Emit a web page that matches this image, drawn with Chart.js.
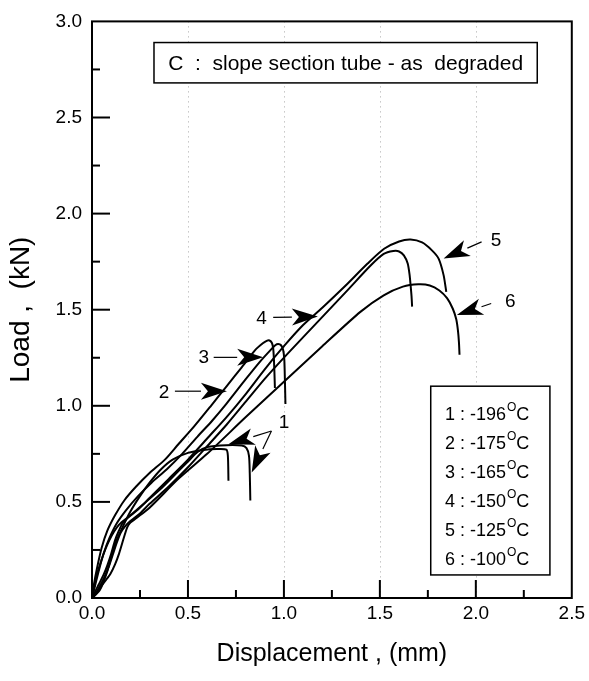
<!DOCTYPE html>
<html><head><meta charset="utf-8">
<script src="https://cdn.jsdelivr.net/npm/chart.js@4/dist/chart.umd.min.js"></script>
<style>html,body{margin:0;padding:0;background:#fff}#wrap{width:589px;height:681px}</style>
</head><body><div id="wrap"><canvas id="c" width="589" height="681"></canvas></div>
<script>
// ---- data ----
const seriesNames = ['1 : -196', '2 : -175', '3 : -165', '4 : -150', '5 : -125', '6 : -100'];
const xTickLabels = ['0.0', '0.5', '1.0', '1.5', '2.0', '2.5'];
const yTickLabels = ['0.0', '0.5', '1.0', '1.5', '2.0', '2.5', '3.0'];

const c1aX = [0, 0.04, 0.08, 0.12, 0.16, 0.2, 0.25, 0.3, 0.36, 0.42, 0.5, 0.58, 0.65, 0.7, 0.708, 0.711];
const c1aY = [0, 0.04, 0.14, 0.28, 0.37, 0.45, 0.53, 0.6, 0.67, 0.72, 0.755, 0.77, 0.775, 0.772, 0.74, 0.61];
const c1bX = [0, 0.02, 0.05, 0.09, 0.14, 0.2, 0.28, 0.36, 0.44, 0.5, 0.55, 0.6, 0.7, 0.78, 0.805, 0.818, 0.822, 0.825];
const c1bY = [0, 0.1, 0.2, 0.3, 0.38, 0.43, 0.5, 0.57, 0.65, 0.71, 0.76, 0.785, 0.795, 0.793, 0.78, 0.74, 0.65, 0.507];
const c2X = [0, 0.01, 0.025, 0.05, 0.08, 0.12, 0.17, 0.23, 0.3, 0.38, 0.45, 0.53, 0.62, 0.7, 0.78, 0.85, 0.89, 0.91, 0.925, 0.937, 0.944, 0.948, 0.951, 0.953];
const c2Y = [0, 0.07, 0.15, 0.26, 0.35, 0.43, 0.51, 0.58, 0.65, 0.72, 0.8, 0.89, 1.0, 1.1, 1.2, 1.29, 1.325, 1.338, 1.34, 1.328, 1.3, 1.24, 1.16, 1.093];
const c3X = [0, 0.015, 0.035, 0.06, 0.09, 0.13, 0.18, 0.24, 0.31, 0.39, 0.47, 0.55, 0.625, 0.7, 0.8, 0.88, 0.93, 0.955, 0.97, 0.985, 0.996, 1.002, 1.005, 1.008];
const c3Y = [0, 0.06, 0.14, 0.23, 0.31, 0.39, 0.46, 0.53, 0.6, 0.67, 0.75, 0.84, 0.921, 1.01, 1.137, 1.235, 1.29, 1.315, 1.321, 1.315, 1.29, 1.24, 1.14, 1.009];
const c4X = [0, 0.02, 0.04, 0.065, 0.09, 0.11, 0.13, 0.15, 0.17, 0.2, 0.25, 0.3, 0.4, 0.5, 0.6, 0.7, 0.8, 0.9, 1.022, 1.177, 1.332, 1.453, 1.52, 1.57, 1.6, 1.625, 1.645, 1.655, 1.66, 1.665, 1.668];
const c4Y = [0, 0.025, 0.06, 0.11, 0.17, 0.23, 0.29, 0.34, 0.37, 0.4, 0.44, 0.49, 0.58, 0.68, 0.79, 0.9, 1.02, 1.14, 1.274, 1.438, 1.602, 1.731, 1.79, 1.805, 1.803, 1.783, 1.74, 1.68, 1.628, 1.57, 1.516];
const c5X = [0, 0.015, 0.035, 0.06, 0.08, 0.1, 0.12, 0.14, 0.16, 0.19, 0.24, 0.3, 0.4, 0.5, 0.6, 0.7, 0.8, 0.9, 1.0, 1.1, 1.2, 1.315, 1.436, 1.522, 1.6, 1.66, 1.72, 1.77, 1.806, 1.832, 1.846];
const c5Y = [0, 0.03, 0.07, 0.12, 0.17, 0.23, 0.3, 0.35, 0.39, 0.42, 0.46, 0.52, 0.62, 0.72, 0.83, 0.94, 1.06, 1.19, 1.31, 1.42, 1.51, 1.619, 1.74, 1.817, 1.855, 1.865, 1.85, 1.81, 1.766, 1.68, 1.593];
const c6X = [0, 0.02, 0.046, 0.07, 0.097, 0.12, 0.141, 0.167, 0.184, 0.2, 0.23, 0.3, 0.45, 0.6, 0.8, 1.0, 1.2, 1.4, 1.52, 1.62, 1.7, 1.76, 1.81, 1.85, 1.88, 1.898, 1.907, 1.912, 1.915];
const c6Y = [0, 0.02, 0.058, 0.09, 0.128, 0.175, 0.231, 0.317, 0.369, 0.392, 0.415, 0.47, 0.62, 0.75, 0.94, 1.125, 1.31, 1.49, 1.575, 1.62, 1.632, 1.626, 1.6, 1.56, 1.505, 1.45, 1.39, 1.33, 1.266];

// ---- annotations (data units) ----
const titleText = 'C  :  slope section tube - as  degraded';
const titleBox = {x0: 0.323, x1: 2.32, y0: 2.68, y1: 2.89};
const legendBox = {x0: 1.765, x1: 2.386, y0: 0.12, y1: 1.102};
const legendRowY = [0.964, 0.812, 0.662, 0.509, 0.357, 0.207];
const legendTextX = 1.839;
const arrowList = [
  {from: [0.935, 0.869], to: [0.711, 0.80]},
  {from: [0.935, 0.869], to: [0.832, 0.653]},
  {from: [0.432, 1.076], to: [0.703, 1.076]},
  {from: [0.634, 1.252], to: [0.892, 1.252]},
  {from: [0.944, 1.46], to: [1.177, 1.464]},
  {from: [2.03, 1.853], to: [1.832, 1.766]},
  {from: [2.08, 1.532], to: [1.901, 1.473]}
];
const numberLabels = [
  {t: '1', at: [1.001, 0.912]}, {t: '2', at: [0.375, 1.067]}, {t: '3', at: [0.582, 1.25]},
  {t: '4', at: [0.884, 1.455]}, {t: '5', at: [2.105, 1.86]}, {t: '6', at: [2.18, 1.54]}
];
const gridX = [0.5, 1.0, 1.5, 2.0];

const FONT = "'Liberation Sans', Arial, Helvetica, sans-serif";
const zip = (xs, ys) => xs.map((v, i) => ({x: v, y: ys[i]}));
const curves = [[c1aX, c1aY, 0], [c1bX, c1bY, 0], [c2X, c2Y, 1], [c3X, c3Y, 2], [c4X, c4Y, 3], [c5X, c5Y, 4], [c6X, c6Y, 5]];

const overlay = {
  id: 'overlay',
  beforeDatasetsDraw(chart) {
    const {ctx, chartArea: a, scales: {x, y}} = chart;
    ctx.save();
    ctx.strokeStyle = '#a8a8a8'; ctx.lineWidth = 1; ctx.setLineDash([1, 4]);
    gridX.forEach(v => {
      const px = Math.round(x.getPixelForValue(v)) + 0.5;
      ctx.beginPath(); ctx.moveTo(px, a.top); ctx.lineTo(px, a.bottom); ctx.stroke();
    });
    ctx.setLineDash([]);
    ctx.strokeStyle = '#000'; ctx.lineWidth = 2;
    for (let k = 1; k < 10; k++) {
      const v = k * 0.25, len = k % 2 === 0 ? 18 : 8;
      const px = x.getPixelForValue(v);
      ctx.beginPath(); ctx.moveTo(px, a.bottom); ctx.lineTo(px, a.bottom - len); ctx.stroke();
    }
    for (let k = 1; k < 12; k++) {
      const v = k * 0.25, len = k % 2 === 0 ? 18 : 8;
      const py = y.getPixelForValue(v);
      ctx.beginPath(); ctx.moveTo(a.left, py); ctx.lineTo(a.left + len, py); ctx.stroke();
    }
    ctx.strokeRect(a.left, a.top, a.width, a.height);
    ctx.restore();
  },
  afterDatasetsDraw(chart) {
    const {ctx, scales: {x, y}} = chart;
    const X = v => x.getPixelForValue(v), Y = v => y.getPixelForValue(v);
    ctx.save();
    // title box
    ctx.strokeStyle = '#000'; ctx.lineWidth = 1.5; ctx.fillStyle = '#fff';
    let bx = X(titleBox.x0), by = Y(titleBox.y1), bw = X(titleBox.x1) - bx, bh = Y(titleBox.y0) - by;
    ctx.fillRect(bx, by, bw, bh); ctx.strokeRect(bx, by, bw, bh);
    ctx.fillStyle = '#000'; ctx.font = '21px ' + FONT; ctx.textAlign = 'center'; ctx.textBaseline = 'middle';
    ctx.fillText(titleText, bx + bw / 2, by + bh / 2 + 1);
    // legend box
    bx = X(legendBox.x0); by = Y(legendBox.y1); bw = X(legendBox.x1) - bx; bh = Y(legendBox.y0) - by;
    ctx.fillStyle = '#fff'; ctx.fillRect(bx, by, bw, bh); ctx.strokeRect(bx, by, bw, bh);
    ctx.fillStyle = '#000'; ctx.textAlign = 'left'; ctx.textBaseline = 'alphabetic';
    seriesNames.forEach((s, i) => {
      const base = Y(legendRowY[i]) + 7;
      let tx = X(legendTextX);
      ctx.font = '18px ' + FONT; ctx.fillText(s, tx, base); tx += ctx.measureText(s).width + 1;
      ctx.font = '12px ' + FONT; ctx.fillText('O', tx, base - 9); tx += ctx.measureText('O').width;
      ctx.font = '18px ' + FONT; ctx.fillText('C', tx, base);
    });
    // arrows
    ctx.lineWidth = 1.2;
    arrowList.forEach(a => {
      const x0 = X(a.from[0]), y0 = Y(a.from[1]), x1 = X(a.to[0]), y1 = Y(a.to[1]);
      const ang = Math.atan2(y1 - y0, x1 - x0), L = 26, W = 8.5;
      const bxp = x1 - L * Math.cos(ang), byp = y1 - L * Math.sin(ang);
      ctx.beginPath(); ctx.moveTo(x0, y0); ctx.lineTo(bxp, byp); ctx.stroke();
      const nx = -Math.sin(ang), ny = Math.cos(ang);
      const nxp = x1 - (L - 7) * Math.cos(ang), nyp = y1 - (L - 7) * Math.sin(ang);
      ctx.beginPath(); ctx.moveTo(x1, y1);
      ctx.lineTo(bxp + nx * W, byp + ny * W); ctx.lineTo(nxp, nyp); ctx.lineTo(bxp - nx * W, byp - ny * W);
      ctx.closePath(); ctx.fill();
    });
    ctx.font = '19px ' + FONT; ctx.textAlign = 'center'; ctx.textBaseline = 'middle';
    numberLabels.forEach(l => ctx.fillText(l.t, X(l.at[0]), Y(l.at[1])));
    ctx.restore();
  }
};

new Chart(document.getElementById('c'), {
  type: 'line',
  data: {
    datasets: curves.map(([xs, ys, k]) => ({
      label: seriesNames[k] + '°C',
      data: zip(xs, ys),
      borderColor: '#000', borderWidth: 2, pointRadius: 0, tension: 0.25, fill: false
    }))
  },
  options: {
    responsive: false, animation: false, devicePixelRatio: 1,
    layout: {padding: {top: 18, right: 14, left: 0, bottom: 0}},
    plugins: {legend: {display: false}, tooltip: {enabled: false}},
    scales: {
      x: {
        type: 'linear', min: 0, max: 2.5,
        afterFit: s => { s.height = 83; },
        grid: {display: false, drawTicks: false}, border: {display: false},
        ticks: {stepSize: 0.5, autoSkip: false, maxRotation: 0, padding: 4, color: '#000',
          font: {family: FONT, size: 19}, callback: (v, i) => xTickLabels[i]},
        title: {display: true, text: 'Displacement , (mm)', color: '#000',
          font: {family: FONT, size: 25}, padding: {top: 0, bottom: 12}}
      },
      y: {
        type: 'linear', min: 0, max: 3,
        afterFit: s => { s.width = 92; },
        grid: {display: false, drawTicks: false}, border: {display: false},
        ticks: {stepSize: 0.5, padding: 10, color: '#000',
          font: {family: FONT, size: 19}, callback: (v, i) => yTickLabels[i]},
        title: {display: true, text: 'Load ,  (kN)', color: '#000',
          font: {family: FONT, size: 28}, padding: {top: 4, bottom: 0}}
      }
    }
  },
  plugins: [overlay]
});
</script></body></html>
